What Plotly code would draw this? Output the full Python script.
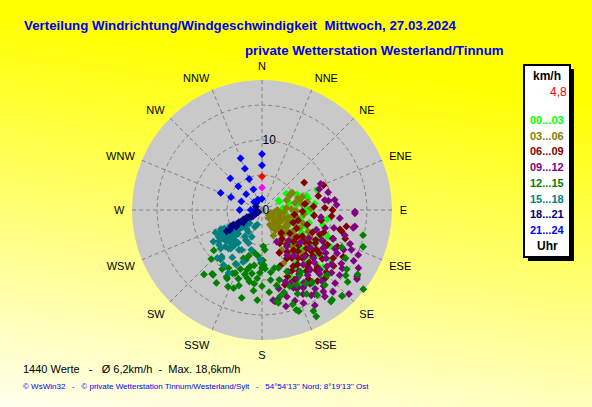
import plotly.graph_objects as go

W, H = 592, 407

# wind (direction deg, speed km/h) per 3-hour block
h00_03 = [(56, 4.2), (60, 4.6), (64, 2.8), (60, 2.7), (70, 8.4), (72, 6.7), (76, 6.8), (83, 7.6),
          (88, 6.4), (90, 4.7), (92, 6.6), (95, 7.4), (66, 5.5), (80, 5.2), (100, 5.8), (105, 7.0),
          (110, 8.2), (115, 6.1), (120, 9.0), (125, 7.4), (128, 10.5), (130, 8.6), (133, 6.9),
          (135, 11.2), (138, 12.5), (139, 13.3), (140, 9.8), (143, 8.2), (145, 10.9), (148, 7.3),
          (150, 9.5), (152, 12.0), (154, 11.4), (157, 10.3), (118, 11.0), (122, 5.4), (108, 4.6),
          (112, 10.2), (126, 12.2), (132, 4.9), (136, 9.2), (141, 6.4), (146, 12.8), (98, 9.4),
          (102, 3.6), (85, 3.0), (75, 4.0), (118, 7.8), (124, 8.7), (131, 10.0), (128, 6.0),
          (134, 7.8), (120, 6.6), (142, 10.6), (147, 9.0), (137, 7.0), (115, 9.3), (126, 9.9),
          (133, 12.0), (110, 6.7), (104, 9.0), (119, 4.3)]
h03_06 = [(60, 5.0), (62, 4.5), (72, 6.1), (72, 5.4), (68, 3.8), (78, 4.8), (85, 3.5), (90, 2.2),
          (95, 3.2), (100, 1.8), (105, 2.6), (110, 3.4), (115, 2.8), (118, 4.1), (120, 1.7),
          (123, 4.3), (125, 5.4), (126, 6.5), (128, 3.0), (130, 4.8), (132, 2.3), (135, 5.9),
          (138, 3.7), (140, 6.9), (139, 9.1), (142, 4.4), (145, 7.6), (148, 5.2), (150, 2.9),
          (152, 2.4), (154, 6.4), (156, 4.0), (158, 8.2), (112, 5.0), (108, 6.2), (102, 5.1),
          (96, 6.0), (88, 7.0), (80, 6.6), (115, 7.3), (120, 8.0), (132, 7.1), (137, 8.3),
          (127, 1.2), (140, 1.5), (110, 1.3), (100, 4.5), (92, 4.9), (82, 5.8), (116, 5.9),
          (118, 3.2), (122, 2.5), (113, 4.2), (128, 4.0), (134, 3.3), (136, 4.6), (144, 5.8),
          (124, 7.2), (106, 3.9), (98, 2.7), (88, 4.2), (75, 5.6), (130, 6.0), (146, 3.5), (140, 2.6)]
h06_09 = [(57, 7.2), (68, 9.5), (76, 8.3), (82, 6.2), (88, 9.0), (90, 10.1), (95, 10.0), (96, 7.5),
          (100, 8.6), (104, 11.5), (105, 11.8), (108, 6.8), (110, 9.4), (112, 10.9), (114, 7.9),
          (116, 12.0), (118, 5.6), (119, 8.8), (121, 10.4), (123, 6.9), (124, 12.3), (126, 9.6),
          (127, 7.6), (129, 11.1), (130, 5.2), (131, 8.4), (133, 10.0), (134, 12.8), (135, 6.4),
          (136, 9.0), (138, 11.6), (139, 7.8), (140, 4.3), (141, 10.4), (143, 8.6), (144, 6.1),
          (146, 11.9), (147, 9.3), (149, 7.0), (150, 10.6), (152, 5.4), (153, 7.8), (154, 9.7),
          (156, 12.3), (158, 6.6), (159, 10.2), (162, 8.4), (163, 11.2), (112, 4.8), (106, 5.4),
          (98, 4.7), (92, 5.8), (128, 13.0), (120, 13.4), (117, 9.8), (125, 8.2), (132, 9.8),
          (137, 13.3), (142, 12.9), (145, 5.0), (101, 12.3), (109, 12.6), (86, 7.4), (122, 9.0),
          (127, 10.3), (130, 9.2), (134, 7.3), (138, 10.1), (140, 8.9), (144, 10.8), (148, 8.1),
          (151, 9.2), (155, 11.0), (118, 10.6), (113, 9.0), (128, 6.3), (136, 11.4), (142, 7.3)]
h09_12 = [(66, 9.2), (70, 8.7), (75, 9.8), (81, 9.1), (82, 9.6), (82, 10.5), (86, 10.7), (91, 13.3),
          (92, 13.3), (96, 11.2), (100, 13.5), (101, 13.3), (104, 10.6), (107, 12.4), (111, 13.5),
          (112, 11.0), (114, 14.0), (115, 15.2), (117, 9.6), (119, 15.0), (120, 12.4), (121, 16.1),
          (122, 10.3), (124, 13.7), (125, 16.6), (126, 16.8), (127, 11.5), (128, 8.8), (130, 14.5),
          (131, 12.3), (133, 10.1), (135, 14.8), (136, 11.9), (137, 16.8), (138, 9.0), (140, 13.2),
          (141, 11.0), (143, 14.6), (144, 15.3), (145, 8.0), (147, 12.6), (148, 14.2), (149, 10.2),
          (150, 14.1), (151, 7.4), (152, 12.6), (153, 11.0), (154, 13.4), (156, 14.6), (157, 9.6),
          (158, 12.0), (160, 13.8), (162, 10.8), (164, 12.9), (166, 14.2), (168, 11.5), (170, 13.0),
          (172, 13.2), (173, 13.0), (155, 5.0), (146, 6.3), (139, 5.8), (130, 7.2), (121, 7.8),
          (110, 8.3), (106, 9.4), (97, 8.5), (134, 17.3), (118, 11.8), (143, 9.8), (132, 13.4),
          (138, 12.3), (141, 14.0), (145, 11.4), (150, 12.0), (128, 12.6), (124, 11.0), (116, 13.0),
          (146, 13.6), (155, 12.2), (159, 11.2), (135, 10.6), (126, 14.2), (151, 15.6), (139, 15.5)]
h12_15 = [(178, 7.9), (176, 5.7), (178, 5.2), (180, 8.3), (182, 9.0), (183, 12.9), (186, 10.6),
          (188, 8.0), (190, 10.4), (192, 8.3), (193, 12.9), (195, 9.5), (197, 11.3), (198, 7.5),
          (200, 9.0), (201, 7.4), (203, 9.8), (204, 12.0), (206, 8.6), (207, 11.0), (208, 10.8),
          (210, 9.6), (212, 12.3), (214, 10.2), (217, 11.6), (218, 11.6), (220, 9.2), (222, 12.4),
          (226, 10.1), (230, 9.0), (240, 6.1), (236, 7.2), (172, 9.0), (173, 10.1), (171, 13.2),
          (170, 13.5), (169, 11.0), (168, 8.5), (166, 10.3), (165, 12.2), (164, 8.6), (162, 14.2),
          (161, 15.1), (160, 15.4), (160, 11.6), (158, 9.5), (157, 13.0), (155, 11.8), (153, 16.2),
          (153, 17.1), (152, 13.6), (150, 10.8), (149, 12.3), (148, 10.4), (147, 14.5), (145, 12.6),
          (143, 16.4), (142, 16.3), (140, 14.0), (137, 16.8), (135, 13.2), (130, 16.0), (128, 18.4),
          (128, 15.2), (125, 14.8), (124, 16.5), (120, 13.8), (115, 12.6), (110, 15.4), (104, 14.9),
          (185, 6.6), (190, 6.2), (196, 6.8), (200, 11.9), (186, 11.6), (180, 10.9), (175, 11.8),
          (192, 10.0), (184, 9.8), (179, 7.2), (179, 8.1), (181, 7.6), (177, 8.4), (194, 8.8),
          (189, 9.2), (199, 10.4), (205, 10.0), (168, 12.6)]
h15_18 = [(198, 2.2), (203, 2.6), (201, 4.1), (212, 3.7), (207, 6.4), (208, 4.9), (210, 6.6),
          (202, 5.1), (195, 5.9), (200, 7.9), (208, 10.2), (219, 7.1), (220, 9.0), (221, 8.8),
          (223, 9.4), (223, 2.6), (221, 7.3), (224, 6.5), (226, 5.4), (228, 5.7), (229, 6.8),
          (230, 4.5), (230, 6.0), (231, 7.9), (232, 5.1), (233, 6.3), (234, 7.6), (235, 4.0),
          (235, 5.6), (236, 6.9), (237, 8.3), (238, 6.2), (238, 4.6), (239, 5.3), (240, 4.7),
          (240, 7.0), (241, 6.4), (241, 5.8), (242, 6.9), (243, 5.1), (244, 6.0), (245, 6.5),
          (244, 7.4), (226, 3.3), (232, 3.0), (227, 8.1), (216, 5.8), (213, 4.5), (219, 3.5),
          (225, 4.8), (229, 3.8), (205, 8.6), (212, 8.0), (215, 9.6), (182, 7.1), (232, 6.8),
          (236, 6.0), (238, 7.3), (234, 5.0), (230, 5.2), (240, 5.8), (227, 6.2), (225, 7.4),
          (222, 5.8), (218, 6.4)]
h18_21 = [(240, 0.6), (238, 1.0), (241, 1.4), (239, 1.8), (242, 2.2), (240, 2.6), (243, 3.0),
          (241, 3.4), (242, 3.8), (240, 4.2), (243, 4.6), (241, 5.0), (238, 5.4), (239, 5.9),
          (236, 3.2), (245, 2.4), (237, 4.4), (235, 1.6), (300, 1.0), (320, 1.3), (340, 1.5),
          (270, 0.9), (242, 1.2), (240, 2.0), (241, 3.6), (242, 4.9)]
h21_24 = [(0, 8.0), (0, 6.4), (0, 1.6), (337.5, 8.0), (337.5, 6.4), (337.5, 4.8), (337.5, 3.2),
          (337.5, 1.6), (315, 6.4), (315, 4.8), (315, 3.2), (315, 1.6), (292.5, 6.4), (292.5, 4.8),
          (292.5, 3.2), (270, 3.2), (270, 1.6)]

groups = [h00_03, h03_06, h06_09, h09_12, h12_15, h15_18, h18_21, h21_24]
group_labels = ["00...03", "03...06", "06...09", "09...12", "12...15", "15...18", "18...21", "21...24"]
group_colors = ["#00FF00", "#808000", "#800000", "#800080", "#008000", "#008080", "#000080", "#0000FF"]

# current value (red) and the magenta marker on north
current = [(0, 4.8)]
marked = [(0, 3.2)]

compass = ["N", "NNE", "NE", "ENE", "E", "ESE", "SE", "SSE",
           "S", "SSW", "SW", "WSW", "W", "WNW", "NW", "NNW"]
compass_deg = [i * 22.5 for i in range(16)]
ring_vals = [0, 5, 10, 15]
ring_text = ["0", "", "10", ""]


def px(x):
    return x / W


def py(y):
    return 1 - y / H


fig = go.Figure()

for pts, name, col in zip(groups, group_labels, group_colors):
    fig.add_trace(go.Scatterpolar(
        theta=[p[0] for p in pts], r=[p[1] for p in pts],
        mode="markers", name=name,
        marker=dict(symbol="diamond", size=6, color=col)))

fig.add_trace(go.Scatterpolar(theta=[p[0] for p in marked], r=[p[1] for p in marked],
                              mode="markers", marker=dict(symbol="diamond", size=6, color="#FF00FF")))
fig.add_trace(go.Scatterpolar(theta=[p[0] for p in current], r=[p[1] for p in current],
                              mode="markers", marker=dict(symbol="diamond", size=6, color="#FF0000")))

fig.update_layout(
    width=W, height=H,
    margin=dict(l=0, r=0, t=0, b=0),
    paper_bgcolor="#FFFF00",
    showlegend=False,
    font=dict(family="Arial, Liberation Sans", color="black"),
    polar=dict(
        domain=dict(x=[px(262 - 130), px(262 + 130)], y=[py(340), py(80)]),
        bgcolor="#C9C9C9",
        angularaxis=dict(
            rotation=90, direction="clockwise",
            tickmode="array", tickvals=compass_deg, ticktext=compass,
            showline=False, ticks="outside", ticklen=5, tickcolor="rgba(0,0,0,0)",
            gridcolor="#808080", griddash="4px,3px", gridwidth=1,
            tickfont=dict(size=11, color="black")),
        radialaxis=dict(
            range=[0, 18.6], angle=90, tickangle=90,
            tickmode="array", tickvals=ring_vals, ticktext=ring_text,
            showline=False, ticks="",
            gridcolor="#808080", griddash="4px,3px", gridwidth=1,
            tickfont=dict(size=12, color="black")),
    ),
)

# background gradient: yellow top right, fading to cream towards bottom left
slope = 0.144
shapes = []
v = 100
while v < 500:
    b = min(240, 0.61 * (v + 2.5 - 100))
    v0, v1 = v, v + 6
    pts = [(0, v0 - slope * W), (W, v0), (W, v1), (0, v1 - slope * W)]
    path = "M " + " L ".join("%.4f,%.4f" % (px(x), py(y)) for x, y in pts) + " Z"
    shapes.append(dict(type="path", xref="paper", yref="paper", layer="below", path=path,
                       fillcolor="rgb(255,255,%d)" % round(b), line=dict(width=0)))
    v += 5

# legend box with shadow
shapes.append(dict(type="rect", xref="paper", yref="paper",
                   x0=px(528), x1=px(574), y0=py(261), y1=py(69),
                   fillcolor="black", line=dict(width=0)))
shapes.append(dict(type="rect", xref="paper", yref="paper",
                   x0=px(524), x1=px(570), y0=py(257), y1=py(65),
                   fillcolor="white", line=dict(color="black", width=2)))
fig.update_layout(shapes=shapes)

ann = []


def text(x, y, s, size, color, bold=False, anchor="left"):
    if bold:
        s = "<b>" + s + "</b>"
    ann.append(dict(x=px(x), y=py(y), xref="paper", yref="paper", text=s, showarrow=False,
                    xanchor=anchor, yanchor="middle",
                    font=dict(size=size, color=color, family="Arial, Liberation Sans")))


nb = "\u00a0"
text(22, 25, "Verteilung Windrichtung/Windgeschwindigkeit " + nb + "Mittwoch, 27.03.2024", 13.3, "#0000EE", True)
text(243, 50, "private Wetterstation Westerland/Tinnum", 13.3, "#0000EE", True)

text(547, 76, "km/h", 12, "black", True, "center")
text(558, 92, "4,8", 12, "#FF0000", False, "center")
for i, (lab, col) in enumerate(zip(group_labels, group_colors)):
    text(547, 120 + i * 15.7, lab, 11, col, True, "center")
text(547, 246, "Uhr", 12, "black", True, "center")

text(21, 369, "1440 Werte" + nb * 3 + "-" + nb * 3 + "Ø 6,2km/h" + nb * 2 + "-" + nb * 2 + "Max. 18,6km/h",
     11, "black")
text(21, 386, "© WsWin32" + nb * 3 + "-" + nb * 3 + "© private Wetterstation Tinnum/Westerland/Sylt"
     + nb * 3 + "-" + nb * 3 + "54°54'13'' Nord; 8°19'13'' Ost", 8, "#0000EE")
fig.update_layout(annotations=ann)

fig.write_html("out.html", config={"displayModeBar": False},
               post_script="document.body.style.margin='0px';")
